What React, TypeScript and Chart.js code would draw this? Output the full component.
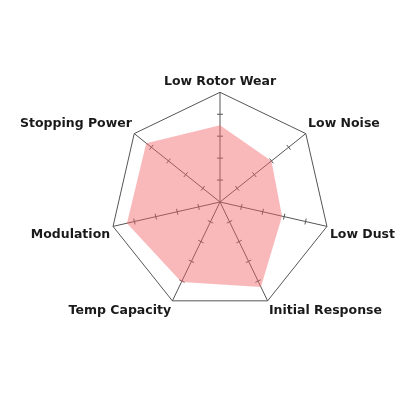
import { useEffect, useRef } from 'react';
import { Chart, registerables } from 'chart.js';

Chart.register(...registerables);

const labels = ['Low Rotor Wear', 'Low Noise', 'Low Dust', 'Initial Response', 'Temp Capacity', 'Modulation', 'Stopping Power'];
const scores = [3.5, 3.0, 2.9, 4.3, 4.05, 4.35, 4.3];
const tickValues = [1, 2, 3, 4];

// small cross marks along every spoke, drawn under the fill
const spokeTicks = {
  id: 'spokeTicks',
  beforeDatasetsDraw(chart: any) {
    const scale = chart.scales.r;
    const ctx = chart.ctx;
    ctx.save();
    ctx.strokeStyle = '#555';
    ctx.lineWidth = 1;
    labels.forEach((_, i) => {
      const a = scale.getIndexAngle(i) - Math.PI / 2;
      const px = -Math.sin(a) * 3;
      const py = Math.cos(a) * 3;
      tickValues.forEach((v) => {
        const p = scale.getPointPositionForValue(i, v);
        ctx.beginPath();
        ctx.moveTo(p.x - px, p.y - py);
        ctx.lineTo(p.x + px, p.y + py);
        ctx.stroke();
      });
    });
    ctx.restore();
  },
};

const App = () => {
  const canvasRef = useRef<HTMLCanvasElement | null>(null);
  const chartRef = useRef<Chart | null>(null);

  useEffect(() => {
    const ctx = canvasRef.current!.getContext('2d')!;
    chartRef.current = new Chart(ctx, {
      type: 'radar',
      data: {
        labels,
        datasets: [
          {
            data: scores,
            backgroundColor: 'rgba(241, 100, 105, 0.45)',
            borderWidth: 0,
            pointRadius: 0,
            fill: true,
          },
        ],
      },
      options: {
        animation: false,
        responsive: false,
        layout: { padding: { left: -20, right: -6, top: 0, bottom: 30 } },
        plugins: { legend: { display: false }, tooltip: { enabled: false } },
        scales: {
          r: {
            min: 0,
            max: 5,
            ticks: { display: false, stepSize: 1 },
            grid: {
              color: (c: any) => (c.tick && c.tick.value === 5 ? '#555' : 'transparent'),
              lineWidth: 1,
            },
            angleLines: { color: '#555', lineWidth: 1 },
            pointLabels: {
              color: '#1a1a1a',
              padding: 3,
              font: { family: 'DejaVu Sans', size: 12.5, weight: 'bold' },
            },
          },
        },
      },
      plugins: [spokeTicks],
    });
    return () => chartRef.current?.destroy();
  }, []);

  return (
    <div style={{ width: 400, height: 400 }}>
      <canvas ref={canvasRef} width={400} height={400} />
    </div>
  );
};

export default App;
